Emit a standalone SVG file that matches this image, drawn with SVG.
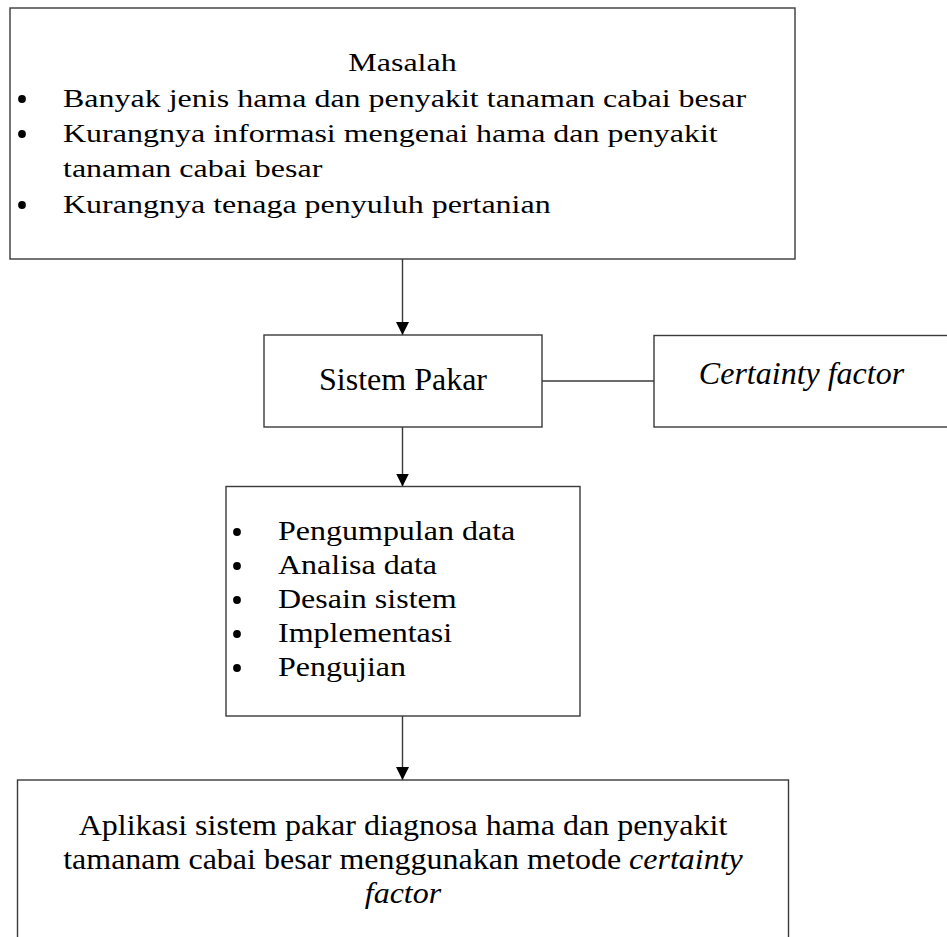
<svg xmlns="http://www.w3.org/2000/svg" width="947" height="937" viewBox="0 0 947 937">
<defs>
<style>
.box{fill:#fff;stroke:#3a3a3a;stroke-width:1.4}
.ln{fill:none;stroke:#3a3a3a;stroke-width:1.4}
.t{font-family:"Liberation Serif","Times New Roman",serif;font-size:32px;fill:#000}
.i{font-style:italic}
.b{fill:#000}
</style>
<marker id="ah" markerWidth="14" markerHeight="14" refX="13" refY="6.5" orient="auto" markerUnits="userSpaceOnUse">
<path d="M0,0 L13,6.5 L0,13 Z" fill="#000"/>
</marker>
</defs>
<rect width="947" height="937" fill="#fff"/>
<g id="connectors">
<line class="ln" x1="402.5" y1="259" x2="402.5" y2="335" marker-end="url(#ah)"/>
<line class="ln" x1="402.5" y1="427" x2="402.5" y2="486.5" marker-end="url(#ah)"/>
<line class="ln" x1="402.5" y1="716" x2="402.5" y2="780" marker-end="url(#ah)"/>
<line class="ln" x1="542" y1="381" x2="654" y2="381"/>
</g>
<g id="masalah">
<rect class="box" x="10" y="8" width="785" height="251"/>
<text class="t" text-anchor="middle" transform="translate(402.5,71) scale(1,0.8)">Masalah</text>
<circle class="b" cx="22" cy="99" r="3.9"/>
<text class="t" transform="translate(63,106.5) scale(1,0.8)">Banyak jenis hama dan penyakit tanaman cabai besar</text>
<circle class="b" cx="22" cy="134" r="3.9"/>
<text class="t" transform="translate(63,141.5) scale(1,0.8)">Kurangnya informasi mengenai hama dan penyakit</text>
<text class="t" transform="translate(63,177) scale(1,0.8)">tanaman cabai besar</text>
<circle class="b" cx="22" cy="205" r="3.9"/>
<text class="t" transform="translate(63,212.5) scale(1,0.8)">Kurangnya tenaga penyuluh pertanian</text>
</g>
<g id="sistem-pakar">
<rect class="box" x="264" y="335" width="278" height="92"/>
<text class="t" text-anchor="middle" x="403" y="390">Sistem Pakar</text>
</g>
<g id="certainty-factor">
<rect class="box" x="654" y="335.5" width="295" height="91.5"/>
<text class="t i" text-anchor="middle" x="801.5" y="384">Certainty factor</text>
</g>
<g id="tahapan">
<rect class="box" x="226" y="486.5" width="354" height="229.5"/>
<circle class="b" cx="237" cy="532" r="3.9"/>
<text class="t" transform="translate(278,539.5) scale(1,0.84)">Pengumpulan data</text>
<circle class="b" cx="237" cy="566" r="3.9"/>
<text class="t" transform="translate(278,573.5) scale(1,0.84)">Analisa data</text>
<circle class="b" cx="237" cy="600" r="3.9"/>
<text class="t" transform="translate(278,607.5) scale(1,0.84)">Desain sistem</text>
<circle class="b" cx="237" cy="634" r="3.9"/>
<text class="t" transform="translate(278,641.5) scale(1,0.84)">Implementasi</text>
<circle class="b" cx="237" cy="668" r="3.9"/>
<text class="t" transform="translate(278,675.5) scale(1,0.84)">Pengujian</text>
</g>
<g id="aplikasi">
<rect class="box" x="17.5" y="780" width="771" height="170"/>
<text class="t" text-anchor="middle" transform="translate(403,835) scale(1,0.9)">Aplikasi sistem pakar diagnosa hama dan penyakit</text>
<text class="t" text-anchor="middle" transform="translate(403,869) scale(1,0.9)">tamanam cabai besar menggunakan metode <tspan class="i">certainty</tspan></text>
<text class="t i" text-anchor="middle" transform="translate(403,903) scale(1,0.9)">factor</text>
</g>
</svg>
